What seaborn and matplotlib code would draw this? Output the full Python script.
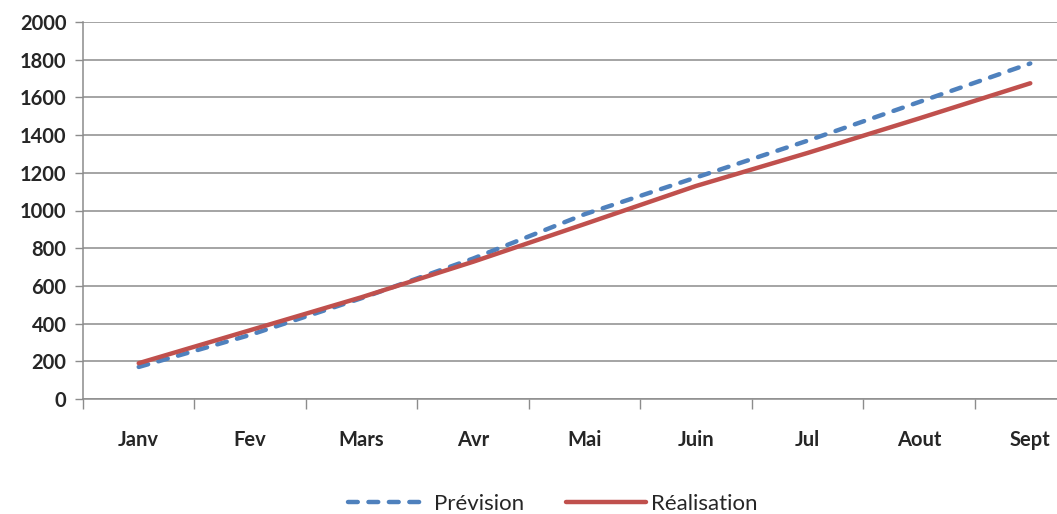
import numpy as np
import pandas as pd
import matplotlib
matplotlib.use("Agg")
import matplotlib.pyplot as plt
from matplotlib.ticker import FixedLocator, MultipleLocator
import seaborn as sns

mois = ["Janv", "Fev", "Mars", "Avr", "Mai", "Juin", "Jul", "Aout", "Sept"]
prevision = [170, 340, 535, 745, 980, 1175, 1370, 1575, 1780]
realisation = [190, 365, 540, 728, 928, 1130, 1305, 1488, 1675]

df = pd.DataFrame({
    "pos": list(range(len(mois))) * 2,
    "valeur": prevision + realisation,
    "serie": ["Prévision"] * len(mois) + ["Réalisation"] * len(mois),
})

sns.set_style("white")
plt.rcParams["font.family"] = ["Lato", "DejaVu Sans"]

fig = plt.figure(figsize=(10.57, 5.14), dpi=100)
ax = fig.add_axes([83 / 1057, 115 / 514, 1003 / 1057, 377 / 514])

palette = {"Prévision": "#4F81BD", "Réalisation": "#C0504D"}
sns.lineplot(data=df, x="pos", y="valeur", hue="serie", style="serie",
             palette=palette, dashes={"Prévision": (2.2, 2.4), "Réalisation": ""},
             linewidth=3.2, ax=ax, legend=False, zorder=3)
ax.lines[0].set_dash_capstyle("round")
ax.lines[1].set_solid_capstyle("round")

ax.set_xlim(-0.5, len(mois) - 0.5)
ax.set_ylim(0, 2000)
ax.yaxis.set_major_locator(MultipleLocator(200))
ax.grid(axis="y", color="#8c8c8c", linewidth=1.1)
ax.grid(axis="x", visible=False)

# ticks at category boundaries, labels at centres
ax.xaxis.set_major_locator(FixedLocator(np.arange(-0.5, len(mois), 1.0)))
ax.xaxis.set_minor_locator(FixedLocator(np.arange(len(mois))))
ax.set_xticklabels([], minor=False)
ax.set_xticklabels(mois, minor=True)
ax.tick_params(axis="x", which="major", bottom=True, length=7, width=1, color="#8c8c8c", direction="out")
ax.tick_params(axis="x", which="minor", bottom=False, length=0, pad=22, labelsize=14.5)
for t in ax.get_xticklabels(minor=True):
    t.set_fontweight("bold")
ax.tick_params(axis="y", left=True, length=6, width=1, color="#8c8c8c", labelsize=14.5, pad=6)
for t in ax.get_yticklabels():
    t.set_fontweight("bold")

ax.set_xlabel("")
ax.set_ylabel("")
for s in ["top", "right"]:
    ax.spines[s].set_visible(False)
for s in ["left", "bottom"]:
    ax.spines[s].set_color("#8c8c8c")
    ax.spines[s].set_linewidth(1.1)

handles = [
    plt.Line2D([], [], color="#4F81BD", lw=3.2, dashes=(2.2, 2.4), dash_capstyle="round"),
    plt.Line2D([], [], color="#C0504D", lw=3.2, solid_capstyle="round"),
]
fig.legend(handles, ["Prévision", "Réalisation"], loc="center", bbox_to_anchor=(553 / 1057, 10 / 514),
           ncol=2, frameon=False, fontsize=16, handlelength=3.6, handletextpad=0.25, columnspacing=1.9)

fig.savefig("out.png", dpi=100)
